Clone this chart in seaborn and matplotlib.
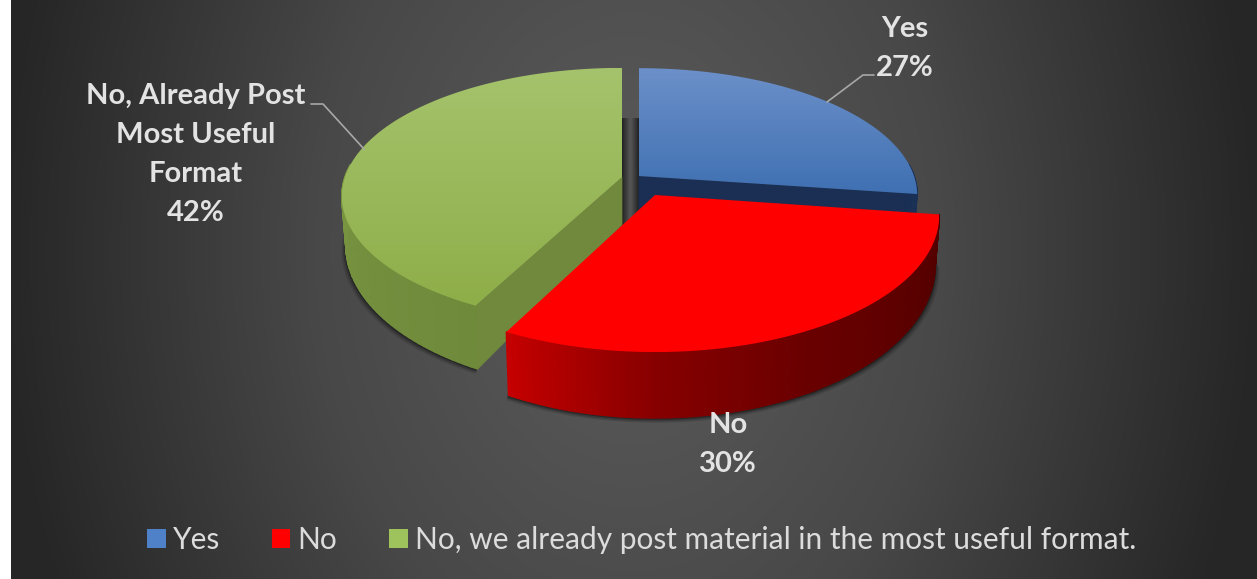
"""3D-style exploded pie: does the group plan to change how it posts material."""

import matplotlib
matplotlib.use("Agg")
import matplotlib.pyplot as plt
import numpy as np
import seaborn as sns
from matplotlib.patches import Patch, Polygon

# data
SHARES = [27, 30, 42]
SLICE_NAMES = ["Yes", "No", "No, Already Post\nMost Useful\nFormat"]
LEGEND_NAMES = ["Yes", "No", "No, we already post material in the most useful format."]

# one pulled-out apex and radii per slice (pixels), same perspective for all
APEX_X = [639, 655, 622]
APEX_Y = [176, 195, 177]
RADIUS_X = [275, 281, 277]
RADIUS_Y = [124, 133.5, 125.5]
PERSPECTIVE = 0.15
DEPTH = 47.5

TOP_GRADIENT = [("#6c90c9", "#3f70b2"), ("#ff0000", "#ff0000"), ("#a5c36c", "#8eae49")]
WALL_GRADIENT = [("#16294a", "#1a3055"),
                 ("#500000", "#5c0000", "#6a0000", "#860000", "#c40000"),
                 ("#6f8a3b", "#86a449")]
CUT_COLOR = ["#1a2f53", "#7a0000", "#71893c"]
LEGEND_COLOR = ["#4f81c8", "#ff0000", "#9fc35c"]
TEXT = "#e3e3e3"
LEADER = "#a8a8a8"

sns.set_theme(style="white")
plt.rcParams["font.family"] = ["Lato", "DejaVu Sans"]

fig = plt.figure(figsize=(12.57, 5.79), dpi=100, facecolor="white")
ax = fig.add_axes([0, 0, 1, 1])
ax.set_axis_off()


def rim(i, deg):
    """Perspective point on the outer edge of slice i at deg clockwise from the top."""
    t = np.radians(deg)
    s = 1 / (1 + PERSPECTIVE * np.cos(t))
    return APEX_X[i] + RADIUS_X[i] * np.sin(t) * s, APEX_Y[i] - RADIUS_Y[i] * np.cos(t) * s, s


def lower(i, x, s):
    """Bottom of the wall below a rim point: slightly narrower and further down."""
    return APEX_X[i] + (x - APEX_X[i]) * 0.985, DEPTH * s ** 2


def background():
    yy, xx = np.mgrid[0:579, 11:1257]
    r = np.sqrt(((xx - 630) / 700) ** 2 + ((yy - 250) / 950) ** 2)
    cmap = sns.blend_palette(["#5c5c5c", "#484848", "#262626"], as_cmap=True)
    ax.imshow(r, extent=(11, 1257, 579, 0), cmap=cmap, vmin=0, vmax=0.9, aspect="auto", zorder=0)


def gradient_face(points, colors, zorder):
    """Vertical gradient clipped to a polygon."""
    pts = np.array(points)
    cmap = sns.blend_palette(list(colors), as_cmap=True)
    box = (pts[:, 0].min(), pts[:, 0].max(), pts[:, 1].max(), pts[:, 1].min())
    im = ax.imshow(np.linspace(0, 1, 256)[:, None], extent=box, cmap=cmap, aspect="auto", zorder=zorder)
    patch = Polygon(pts, closed=True, transform=ax.transData, fc="none", ec="none")
    ax.add_patch(patch)
    im.set_clip_path(patch)


def draw_slice(i, start, end, zorder):
    degs = np.linspace(start, end, 110)
    x, y, s = rim(i, degs)
    bx, d = lower(i, x, s)
    # soft shadow below the front of the wall only
    front = np.cos(np.radians(degs)) < 0.1
    for grow, drop, alpha in ((1.016, 5, 0.12), (1.010, 3.5, 0.2), (1.005, 2, 0.3)):
        sx = APEX_X[i] + (bx[front] - APEX_X[i]) * grow
        ax.fill(np.r_[sx, bx[front][::-1]], np.r_[y[front] + d[front] + drop, (y + d)[front][::-1] - 6],
                color="black", alpha=alpha, lw=0, zorder=zorder)
    # cut faces towards the viewer
    for e in (start, end):
        ex, ey, es = rim(i, e)
        if i == 1 or abs(ex - APEX_X[i]) < 1 or (i == 2 and e == end):
            continue
        ebx, ed = lower(i, ex, es)
        ax.fill([APEX_X[i], ex, ebx, APEX_X[i]], [APEX_Y[i], ey, ey + ed, APEX_Y[i] + DEPTH],
                color=CUT_COLOR[i], lw=0.5, zorder=zorder + 0.1)
    # outer wall, one shaded strip per step, front part only so no stroke shows behind the top
    shades = sns.blend_palette(list(WALL_GRADIENT[i]), len(degs) - 1)
    for k, shade in enumerate(shades):
        if np.cos(np.radians(degs[k])) > 0.1:
            continue
        ax.fill([x[k], x[k + 1], bx[k + 1], bx[k]], [y[k], y[k + 1], y[k + 1] + d[k + 1], y[k] + d[k]],
                color=shade, lw=1.2, zorder=zorder + 0.2)
    face = [(APEX_X[i], APEX_Y[i])] + list(zip(x, y))
    gradient_face(face, TOP_GRADIENT[i], zorder + 0.3)


background()

# dark inner wall seen through the gap between blue and green
gap = sns.blend_palette(["#222222", "#585858", "#222222"], as_cmap=True)
ax.imshow(np.linspace(0, 1, 64)[None, :], extent=(622, 639, 225, 118), cmap=gap, aspect="auto", zorder=1)

ends = np.cumsum(SHARES) / np.sum(SHARES) * 360
starts = np.r_[0, ends[:-1]]
for i, order in zip((0, 2, 1), (2, 3, 4)):
    draw_slice(i, starts[i], ends[i], order)

# labels and leader lines
for name, share, x, top in zip(SLICE_NAMES, SHARES, (905, 728, 196), (29, 425, 96)):
    for row, line in enumerate(name.split("\n") + [f"{share}%"]):
        ax.text(x, top + row * 39, line, ha="center", va="center", fontsize=21,
                fontweight="bold", color=TEXT, zorder=6)
ax.plot([311, 323, 364], [104, 104, 149], color=LEADER, lw=1.2, zorder=5)
ax.plot([874, 863, 827], [75, 75, 102], color=LEADER, lw=1.2, zorder=5)

handles = [Patch(facecolor=c, edgecolor="none", label=n) for c, n in zip(LEGEND_COLOR, LEGEND_NAMES)]
ax.legend(handles=handles, ncol=3, frameon=False, loc="center", bbox_to_anchor=(641.5, 540),
          bbox_transform=ax.transData, fontsize=21.5, labelcolor="#dcdcdc", handlelength=0.63,
          handleheight=0.65, handletextpad=0.24, columnspacing=1.72, borderpad=0, borderaxespad=0)

ax.set_xlim(0, 1257)
ax.set_ylim(579, 0)
fig.savefig("out.png", dpi=100, facecolor="white")
